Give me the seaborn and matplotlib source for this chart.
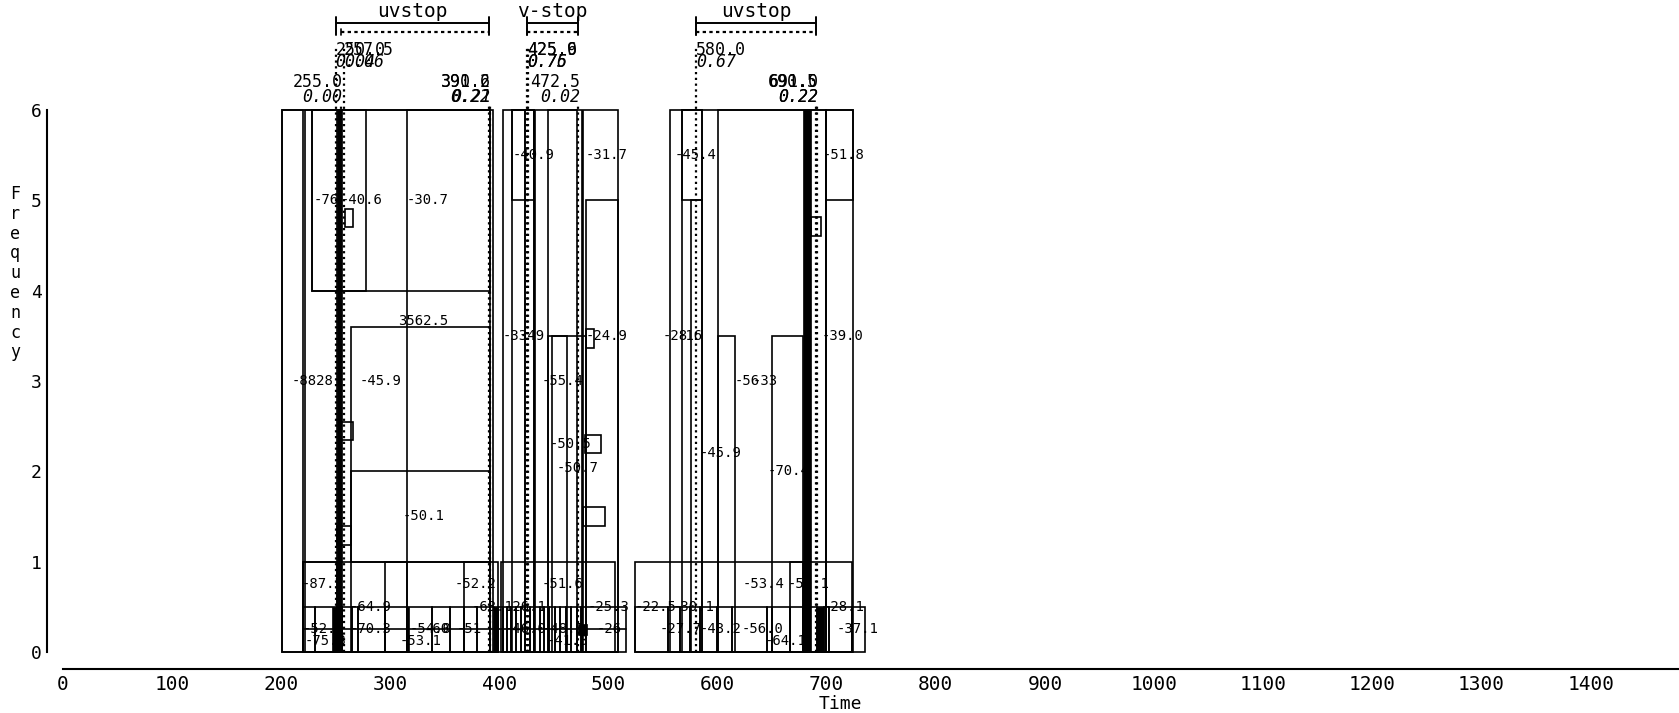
import matplotlib
matplotlib.use("Agg")
import matplotlib.pyplot as plt
from matplotlib.patches import Rectangle
import seaborn as sns

# ---- segment boxes (time span x frequency band) ----
box_t0 = [201, 201, 222, 228, 228, 315.5, 264.5, 264.5, 220, 220, 295.5, 367.7,
          403, 411.4, 423.6, 411.4, 444.7, 444.7, 448, 479.5, 402,
          524.4, 556.6, 567.2, 567.2, 575.4, 600.6, 600.6, 649.6, 666.4, 699.5, 699.5,
          258.6, 254, 251, 479.5, 477, 479, 686]
box_t1 = [394, 220, 251.5, 391.5, 278, 391.5, 391.5, 391.5, 399, 251.5, 315.5, 391.5,
          509, 423.6, 431.5, 431.5, 471, 479.5, 461.8, 509, 506,
          723.2, 699.5, 585.5, 585.5, 585.5, 699.5, 616, 678.5, 678.5, 724.2, 724.2,
          266, 266, 264.5, 487, 497, 493, 695]
box_f0 = [0, 0, 0, 4, 4, 0, 0, 1, 0, 0, 0, 0,
          0, 0, 0, 5, 0, 0, 0, 0, 0,
          0, 0, 0, 5, 0, 0, 0, 0, 0, 0, 5,
          4.7, 2.35, 1.18, 3.37, 1.4, 2.2, 4.6]
box_f1 = [6, 6, 6, 6, 6, 6, 3.6, 2, 1, 1, 1, 1,
          6, 6, 6, 6, 6, 3.5, 3.5, 5, 1,
          1, 6, 6, 6, 5, 6, 3.5, 3.5, 1, 6, 6,
          4.9, 2.55, 1.4, 3.58, 1.6, 2.4, 4.82]

# ---- blackened strips ----
solid_t0 = [251.5, 247, 315, 394.5, 431, 475, 472.5, 678.5, 691.5]
solid_t1 = [255.5, 254, 317.5, 398.5, 433, 477, 480, 686, 697]
solid_f0 = [0, 0, 0, 0, 0, 0, 0.19, 0, 0]
solid_f1 = [6, 0.5, 0.5, 0.5, 6, 6, 0.31, 6, 0.5]

# ---- lowest bands: cell edges per group ----
row_edges_g1 = [220, 231.5, 251, 256, 265, 270.5, 295.5, 315.5, 338, 355, 367.7, 379.3, 391.5, 399]
row_edges_g2 = [399, 403, 407, 411, 415, 420, 424, 428, 432, 437, 441, 446, 451, 456, 461,
                466, 471, 474.5, 516.5]
row_edges_g3 = [524.4, 554.6, 565.6, 574.8, 584, 599.2, 613, 645, 650, 666.4, 678, 684,
                691.5, 697.6, 702, 723, 735.2]

# ---- band labels ----
lab_t = [229.5, 254.3, 315.5, 307.3, 210, 272.4, 311.8, 219.3, 359.5, 263.2, 375, 220, 263.2,
         318.2, 332, 361.3, 222, 309,
         412.6, 479.5, 403.4, 419, 479.5, 439, 445.7, 453, 439, 405.3, 481.3, 405, 440, 489.6, 443.7,
         561, 696.5, 550, 563, 695.7, 616, 632, 584, 646.2, 623.4, 664.6, 524.4, 559.2, 696.5,
         547.3, 584, 622.4, 643.5, 709.4]
lab_f = [5.0, 5.0, 5.0, 3.66, 3.0, 3.0, 1.5, 0.75, 0.75, 0.5, 0.5, 0.25, 0.25,
         0.25, 0.25, 0.25, 0.12, 0.12,
         5.5, 5.5, 3.5, 3.5, 3.5, 3.0, 2.3, 2.04, 0.75, 0.5, 0.5, 0.25, 0.25, 0.25, 0.12,
         5.5, 5.5, 3.5, 3.5, 3.5, 3.0, 3.0, 2.2, 2.0, 0.75, 0.75, 0.5, 0.5, 0.5,
         0.25, 0.25, 0.25, 0.12, 0.25]
lab_text = ["-76", "-40.6", "-30.7", "3562.5", "-8828", "-45.9", "-50.1", "-87.5", "-52.2",
            "-64.9", "-63.1", "-52.7", "-70.3", "-54.0", "-60", "-51", "-75.3", "-53.1",
            "-40.9", "-31.7", "-33", "-49", "-24.9", "-55.4", "-50.5", "-50.7", "-51.6",
            "-26.1", "-25.3", "-46.0", "-48.7", "-26", "-41.3",
            "-45.4", "-51.8", "-28", "-16", "-39.0", "-56", "-33", "-45.9", "-70.4",
            "-53.4", "-50.1", "-22.5", "-30.1", "-28.1", "-27.7", "-43.2", "-56.0",
            "-64.1", "-37.1"]

# ---- stop markers ----
marker_time = [250.0, 257.5, 255.0, 390.6, 391.2, 425.6, 425.9, 472.5, 580.0, 690.5, 691.0]
marker_prob = ["0.04", "0.06", "0.00", "0.22", "0.21", "0.75", "0.76", "0.02", "0.67", "0.22", "0.22"]
marker_tier = [1, 1, 0, 0, 0, 1, 1, 0, 1, 0, 0]

stop_name = ["uvstop", "v-stop", "uvstop"]
stop_from = [0, 5, 8]
stop_to = [3, 7, 9]
stop_dot_from = [2, 5, 8]
stop_dot_to = [3, 7, 9]

x_ticks = list(range(0, 1600, 100))
y_ticks = [0, 1, 2, 3, 4, 5, 6]

sns.set_theme(style="white")
plt.rcParams["font.family"] = ["DejaVu Sans Mono"]

W, H = 1679, 713
fig = plt.figure(figsize=(W / 100, H / 100), dpi=100)
x0_px, y0_px, y6_px = 62.7, 652, 110
px_per_t = 1.0914
ax = fig.add_axes([x0_px / W, (H - y0_px) / H, 1500 * px_per_t / W, (y0_px - y6_px) / H])
ax.set_xlim(0, 1500)
ax.set_ylim(0, 6)

LW = 1.2
ink = "black"

for t0, t1, f0, f1 in zip(box_t0, box_t1, box_f0, box_f1):
    ax.add_patch(Rectangle((t0, f0), t1 - t0, f1 - f0, fill=False, ec=ink, lw=LW, clip_on=False, zorder=2))

for edges, quarter in ((row_edges_g1, True), (row_edges_g2, True), (row_edges_g3, False)):
    for a, b in zip(edges[:-1], edges[1:]):
        ax.add_patch(Rectangle((a, 0), b - a, 0.5, fill=False, ec=ink, lw=LW, clip_on=False, zorder=2))
    if quarter:
        ax.plot([edges[0], edges[-1]], [0.25, 0.25], color=ink, lw=LW, zorder=2)

for t, f, s in zip(lab_t, lab_f, lab_text):
    ax.text(t, f, s, ha="left", va="center", fontsize=10, color=ink, zorder=3)

for t0, t1, f0, f1 in zip(solid_t0, solid_t1, solid_f0, solid_f1):
    ax.add_patch(Rectangle((t0, f0), t1 - t0, f1 - f0, fc=ink, ec=ink, lw=0.5, clip_on=False, zorder=4))

# stop markers: dotted verticals with time / probability labels above the plot
trans = ax.get_xaxis_transform()
for t, p, tier in zip(marker_time, marker_prob, marker_tier):
    top = 1.116 if tier else 1.011
    ax.plot([t, t], [0, top], transform=trans, color=ink, lw=1.6,
            linestyle=(0, (1, 1.6)), clip_on=False, zorder=5)
    if tier:
        ax.text(t, 1.1107, f"{t:.1f}", transform=trans, ha="left", va="center",
                fontsize=12, color=ink, clip_on=False)
        ax.text(t, 1.0886, p, transform=trans, ha="left", va="center", fontsize=12,
                style="italic", color=ink, clip_on=False)
    else:
        ax.text(t + 1.5, 1.0517, f"{t:.1f}", transform=trans, ha="right", va="center",
                fontsize=12, color=ink, clip_on=False)
        ax.text(t + 1.5, 1.024, p, transform=trans, ha="right", va="center", fontsize=12,
                style="italic", color=ink, clip_on=False)

for name, a, b, da, db in zip(stop_name, stop_from, stop_to, stop_dot_from, stop_dot_to):
    ta, tb = marker_time[a], marker_time[b]
    ax.plot([ta, tb], [1.1605, 1.1605], transform=trans, color=ink, lw=1.4, clip_on=False)
    ax.plot([marker_time[da], marker_time[db]], [1.1439, 1.1439], transform=trans, color=ink,
            lw=1.6, linestyle=(0, (1.5, 1.5)), clip_on=False)
    for t in (ta, tb):
        ax.plot([t, t], [1.1384, 1.1716], transform=trans, color=ink, lw=1.4, clip_on=False)
    ax.plot([marker_time[da]] * 2, [1.1384, 1.15], transform=trans, color=ink, lw=1.2, clip_on=False)
    ax.text((ta + tb) / 2, 1.181, name, transform=trans, ha="center", va="center",
            fontsize=14, color=ink, clip_on=False)

# axes: detached spines with inward ticks
sns.despine(ax=ax, offset={"left": 11.3, "bottom": 12.2})
for side in ("left", "bottom"):
    ax.spines[side].set_color(ink)
    ax.spines[side].set_linewidth(1.5)
ax.set_xticks(x_ticks)
ax.set_xticklabels([str(v) for v in x_ticks])
ax.set_yticks(y_ticks)
ax.set_yticklabels([str(v) for v in y_ticks])
ax.tick_params(axis="x", direction="in", length=4.5, width=1.2, labelsize=14, pad=4, colors=ink)
ax.tick_params(axis="y", direction="in", length=4.5, width=1.2, labelsize=13, pad=4, colors=ink)

fig.text(840 / W, 1 - 704 / H, "Time", ha="center", va="center", fontsize=13, color=ink)
for i, ch in enumerate("Frequency"):
    fig.text(15 / W, 1 - (194 + i * 19.8) / H, ch, ha="center", va="center", fontsize=12, color=ink)

fig.savefig("out.png", dpi=100)
